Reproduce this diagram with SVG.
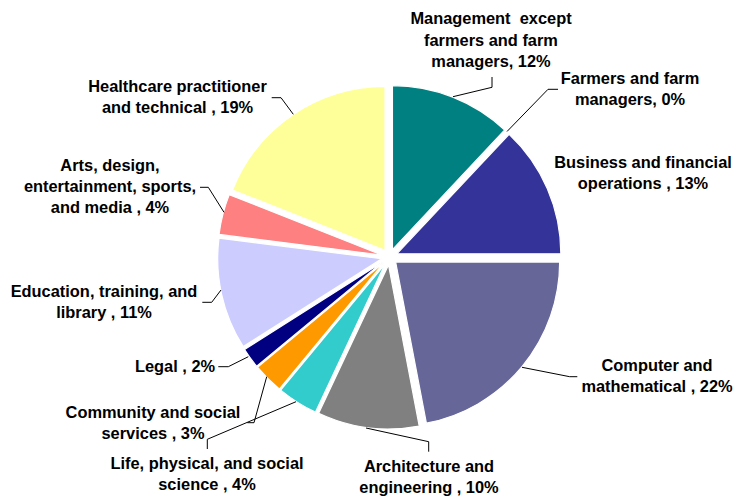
<svg xmlns="http://www.w3.org/2000/svg" width="736" height="499" viewBox="0 0 736 499">
<style>
.s{stroke:#fff;stroke-width:1.2;stroke-linejoin:round}
.t{font-family:"Liberation Sans",Arial,sans-serif;font-weight:bold;font-size:16.4px;fill:#000;text-anchor:middle;white-space:pre}
.c{fill:none;stroke:#000;stroke-width:1}
</style>
<rect width="736" height="499" fill="#fff"/>
<g id="management">
<path class="s" fill="#008080" d="M392.44,249.56 L392.44,85.56 A164,164 0 0 1 504.70,130.00 Z"/>
<text class="t" xml:space="preserve"><tspan x="491" y="24">Management  except</tspan><tspan x="491" y="45.5">farmers and farm</tspan><tspan x="491" y="67">managers, 12%</tspan></text>
</g>
<g id="farmers">
<text class="t"><tspan x="630" y="84">Farmers and farm</tspan><tspan x="630" y="105">managers, 0%</tspan></text>
</g>
<g id="business">
<path class="s" fill="#333399" d="M396.84,253.82 L509.10,134.26 A164,164 0 0 1 560.84,253.82 Z"/>
<text class="t"><tspan x="643" y="168">Business and financial</tspan><tspan x="643" y="189">operations , 13%</tspan></text>
</g>
<g id="computer">
<path class="s" fill="#666699" d="M395.66,262.10 L559.66,262.10 A164,164 0 0 1 426.39,423.20 Z"/>
<text class="t"><tspan x="657" y="370.5">Computer and</tspan><tspan x="657" y="391.5">mathematical , 22%</tspan></text>
</g>
<g id="architecture">
<path class="s" fill="#808080" d="M388.50,264.94 L419.23,426.04 A164,164 0 0 1 318.67,413.33 Z"/>
<text class="t"><tspan x="429" y="471.5">Architecture and</tspan><tspan x="429" y="492.5">engineering , 10%</tspan></text>
</g>
<g id="life">
<path class="s" fill="#33CCCC" d="M385.21,263.75 L315.38,412.14 A164,164 0 0 1 280.68,390.11 Z"/>
<text class="t"><tspan x="207" y="468.5">Life, physical, and social</tspan><tspan x="207" y="489.5">science , 4%</tspan></text>
</g>
<g id="community">
<path class="s" fill="#FF9900" d="M383.84,262.66 L279.31,389.02 A164,164 0 0 1 257.48,367.19 Z"/>
<text class="t"><tspan x="153" y="418">Community and social</tspan><tspan x="153" y="438.5">services , 3%</tspan></text>
</g>
<g id="legal">
<path class="s" fill="#000080" d="M383.03,261.70 L256.67,366.23 A164,164 0 0 1 244.56,349.57 Z"/>
<text class="t" x="175" y="371.5">Legal , 2%</text>
</g>
<g id="education">
<path class="s" fill="#CCCCFF" d="M381.69,258.74 L243.22,346.61 A164,164 0 0 1 218.99,238.19 Z"/>
<text class="t"><tspan x="104" y="297">Education, training, and</tspan><tspan x="104" y="318">library , 11%</tspan></text>
</g>
<g id="arts">
<path class="s" fill="#FF8080" d="M381.75,255.01 L219.05,234.46 A164,164 0 0 1 229.26,194.64 Z"/>
<text class="t"><tspan x="110" y="171">Arts, design,</tspan><tspan x="110" y="192">entertainment, sports,</tspan><tspan x="110" y="213">and media , 4%</tspan></text>
</g>
<g id="healthcare">
<path class="s" fill="#FFFF99" d="M385.00,250.38 L232.51,190.01 A164,164 0 0 1 385.00,86.38 Z"/>
<text class="t"><tspan x="177.5" y="92">Healthcare practitioner</tspan><tspan x="177.5" y="113">and technical , 19%</tspan></text>
</g>
<g id="connectors">
<polyline class="c" points="492,77 492,87.3 453,96.7"/>
<polyline class="c" points="558,89.3 548,89.3 507,131.5"/>
<polyline class="c" points="577.3,376.7 569.7,376.7 522,367.3"/>
<polyline class="c" points="428.7,451.7 428.7,441.7 366,428"/>
<polyline class="c" points="207.3,449 207.3,439.3 296,401.7"/>
<polyline class="c" points="247.3,422.7 254,422.7 266.7,376.7"/>
<polyline class="c" points="218.3,366.7 228.3,366.7 248.3,356.7"/>
<polyline class="c" points="202.3,302.3 211.7,302.3 221,290"/>
<polyline class="c" points="200,187.3 208.3,187.3 224,212.3"/>
<polyline class="c" points="271.7,97.7 281,97.7 293.3,114.3"/>
</g>
</svg>
